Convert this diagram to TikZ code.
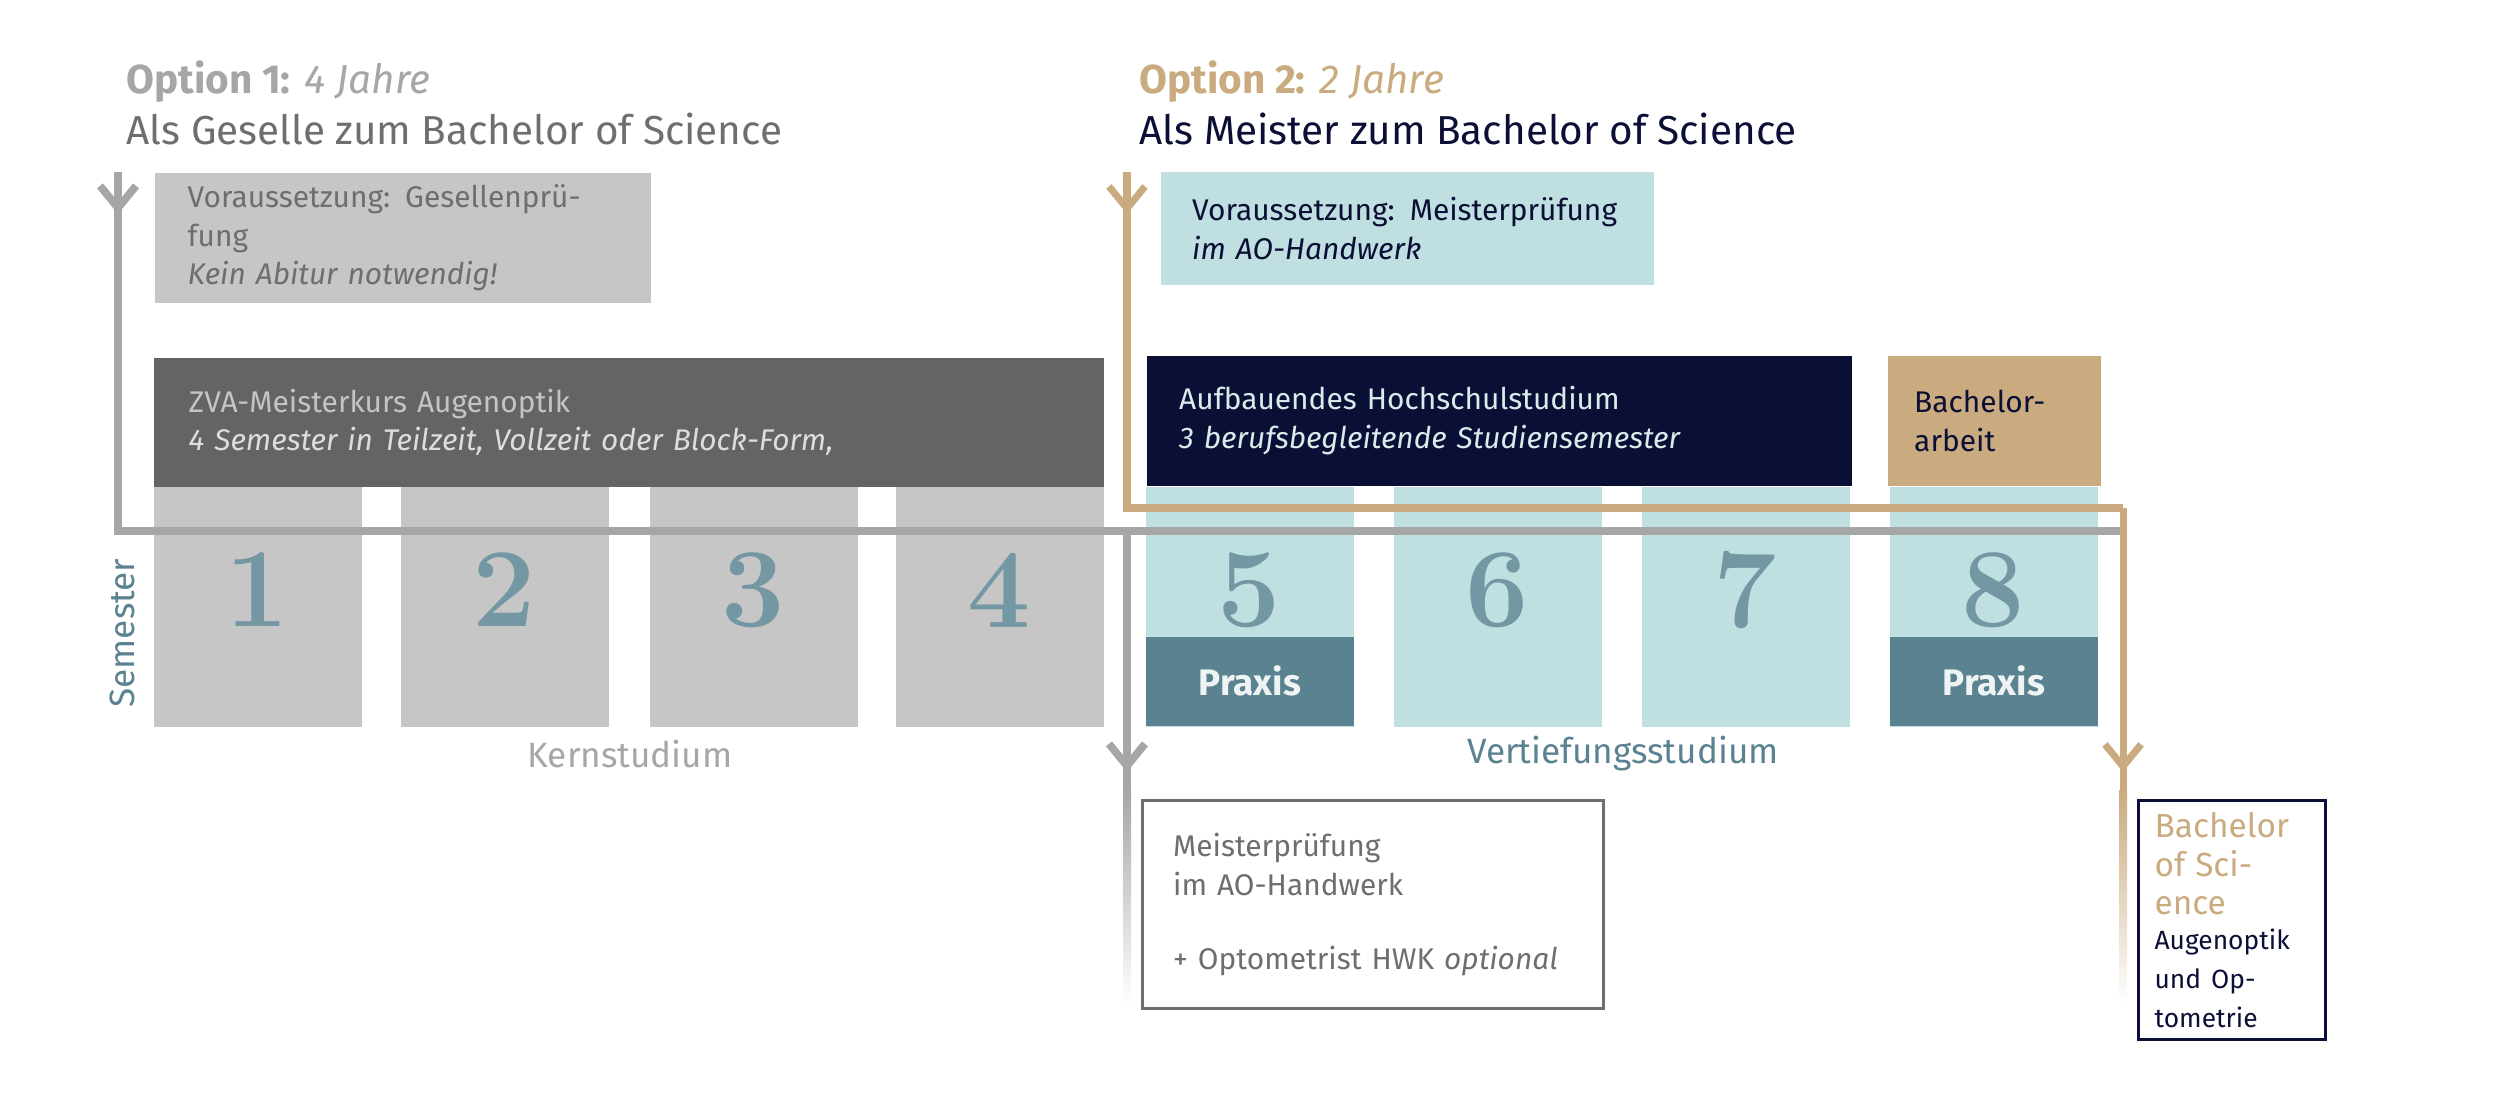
\documentclass[tikz,border=0pt]{standalone}
\usepackage{fontspec}
\setmainfont{Fira Sans}
\newfontfamily\numfont{Latin Modern Roman}
\usetikzlibrary{arrows.meta,positioning}
\definecolor{boxgray}{HTML}{C6C6C6}
\definecolor{txtgray}{HTML}{6E6E6E}
\definecolor{darkgray}{HTML}{646464}
\definecolor{linegray}{HTML}{A6A6A6}
\definecolor{lightteal}{HTML}{BFDFE0}
\definecolor{praxisteal}{HTML}{5A8291}
\definecolor{numteal}{HTML}{7397A3}
\definecolor{navy}{HTML}{0B0F35}
\definecolor{gold}{HTML}{C9AB7F}

\begin{document}
\begin{tikzpicture}[
		x=0.01cm, y=-0.01cm,
		box/.style={
			rectangle,
			anchor=north west,
			inner xsep=0.3cm,
			align=left,
			font=\fontsize{8.5}{11}\selectfont,
		},
		sem/.style={
			rectangle,
			anchor=north west,
			minimum width=2.08cm,
			minimum height=2.4cm,
			inner sep=0pt,
		},
		num/.style={
			text=numteal,
			font=\numfont\bfseries\fontsize{32}{32}\selectfont,
		},
		praxis/.style={
			fill=praxisteal,
			text=white!90!praxisteal,
			anchor=north west,
			minimum width=2.08cm,
			minimum height=0.89cm,
			font=\bfseries\fontsize{10.5}{12}\selectfont,
		},
		title/.style={anchor=base west, font=\fontsize{11.5}{13}\selectfont},
		path1/.style={draw=linegray, line width=2.2pt},
		path2/.style={draw=gold, line width=2pt},
		tip/.style={-{Straight Barb[length=0.22cm,width=0.36cm]}},
		]
		
		\useasboundingbox (0,0) rectangle (2500,1113);
		
		% Titles
		\node[title, text=linegray] (t1a) at (114,94) {\textbf{Option 1:} \textit{4 Jahre}};
		\node[title, text=txtgray] (t1b) at (114,145) {Als Geselle zum Bachelor of Science};
		\node[title, text=gold] (t2a) at (1127,94) {\textbf{Option 2:} \textit{2 Jahre}};
		\node[title, text=navy] (t2b) at (1127,145) {Als Meister zum Bachelor of Science};
		
		% Requirement boxes
		\node[box, fill=boxgray, text=txtgray, minimum width=4.96cm, minimum height=1.19cm, text width=4.3cm] (req1) at (154,172) {Voraussetzung: Gesellenprüfung\\\textit{Kein Abitur notwendig!}};
		\node[box, fill=lightteal, text=navy, minimum width=4.93cm, minimum height=1.13cm, text width=4.3cm] (req2) at (1160,171) {Voraussetzung: Meisterprüfung\\\textit{im AO-Handwerk}};
		
		% Semester columns
		\foreach \n/\x/\c in {1/153/boxgray,2/400/boxgray,3/649/boxgray,4/895/boxgray,5/1145/lightteal,6/1393/lightteal,7/1641/lightteal,8/1889/lightteal}{
			\node[sem, fill=\c] (sem\n) at (\x,486) {};
			\node[num] (num\n) at (\x+104,590) {\n};
		}
		\node[praxis] (prax5) at (1145,636) {Praxis};
		\node[praxis] (prax8) at (1889,636) {Praxis};
		
		% Course boxes
		\node[box, fill=darkgray, text=white!62!darkgray, minimum width=9.5cm, minimum height=1.29cm, text width=8.8cm] (zva) at (153,357) {ZVA-Meisterkurs Augenoptik\\\textit{\color{white!78!darkgray}4 Semester in Teilzeit, Vollzeit oder Block-Form,}};
		\node[box, fill=navy, text=lightteal!60!white, minimum width=7.05cm, minimum height=1.3cm, text width=6.4cm] (hs) at (1146,355) {Aufbauendes Hochschulstudium\\\textit{3 berufsbegleitende Studiensemester}};
		\node[box, fill=gold, text=navy, minimum width=2.13cm, minimum height=1.3cm, text width=1.6cm, inner xsep=0.25cm] (ba) at (1887,355) {Bachelor-\\arbeit};
		
		% Paths
		\coordinate (p1a) at (118,172);
		\coordinate (p1b) at (118,531);
		\coordinate (p1c) at (2123,531);
		\coordinate (p2a) at (1127,172);
		\coordinate (p2b) at (1127,508);
		\coordinate (p2c) at (2123,508);
		\coordinate (p3a) at (1127,531);
		\coordinate (p3b) at (1127,790);
		\coordinate (p2d) at (2123,790);
		\draw[path1, tip] (p1a) -- (118,214);
		\draw[path1] (p1a) -- (p1b) -- (p1c);
		\draw[path2, tip] (p2a) -- (1127,214);
		\draw[path2] (p2a) -- (p2b) -- (p2c);
		\draw[path1, tip] (p3a) -- (1127,772);
		\draw[path1] (p3a) -- (p3b);
		\draw[path2, tip] (p2c) -- (2123,772);
		\draw[path2] (p2c) -- (p2d);
		\shade[top color=linegray, bottom color=white] (1123,790) rectangle (1131,1005);
		\shade[top color=gold, bottom color=white] (2119,790) rectangle (2127,1005);
		
		% Stage labels
		\node[text=linegray, font=\fontsize{10}{12}\selectfont] (kern) at (630,754) {Kernstudium};
		\node[text=praxisteal, font=\fontsize{10}{12}\selectfont] (vert) at (1623,754) {Vertiefungsstudium};
		\node[text=praxisteal, rotate=90, font=\fontsize{10}{12}\selectfont] (semlbl) at (122,633) {Semester};
		
		% Result boxes
		\node[box, draw=txtgray, line width=0.9pt, text=txtgray, minimum width=4.61cm, minimum height=2.08cm, text width=4cm] (mp) at (1141,799) {Meisterprüfung\\im AO-Handwerk\\[1.2em]+ Optometrist HWK \textit{optional}};
		\node[box, draw=navy, line width=0.9pt, minimum width=1.87cm, minimum height=2.08cm, text width=1.55cm, inner xsep=0.15cm] (bsc) at (2137,799) {{\color{gold}\fontsize{9.5}{11.5}\selectfont Bachelor\\of Science}\\{\color{navy}\fontsize{7.5}{10}\selectfont Augenoptik\\und Optometrie}};
		
	\end{tikzpicture}
\end{document}
